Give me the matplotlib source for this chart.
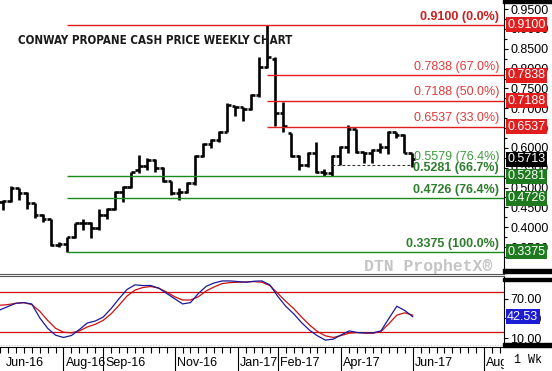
import numpy as np
import matplotlib.pyplot as plt
from matplotlib.patches import Rectangle
from matplotlib.transforms import blended_transform_factory

plt.rcParams['font.family'] = ['Liberation Sans', 'DejaVu Sans']

# weekly OHLC, Jun-16 .. Jun-17
opens = [0.464, 0.466, 0.499, 0.486, 0.460, 0.431, 0.420, 0.355, 0.358, 0.376,
         0.411, 0.410, 0.397, 0.431, 0.445, 0.490, 0.502, 0.545, 0.554, 0.570,
         0.549, 0.517, 0.486, 0.490, 0.512, 0.580, 0.610, 0.620, 0.641, 0.706,
         0.703, 0.697, 0.733, 0.805, 0.825, 0.687, 0.637, 0.580, 0.557, 0.586,
         0.539, 0.536, 0.580, 0.603, 0.647, 0.590, 0.588, 0.595, 0.602, 0.641,
         0.633, 0.586]
highs = [0.469, 0.505, 0.499, 0.488, 0.462, 0.433, 0.421, 0.363, 0.376, 0.411,
         0.421, 0.414, 0.445, 0.448, 0.492, 0.504, 0.540, 0.582, 0.574, 0.571,
         0.551, 0.517, 0.498, 0.515, 0.582, 0.612, 0.622, 0.643, 0.714, 0.706,
         0.704, 0.736, 0.828, 0.910, 0.829, 0.715, 0.637, 0.582, 0.590, 0.616,
         0.546, 0.582, 0.605, 0.658, 0.647, 0.590, 0.597, 0.612, 0.643, 0.641,
         0.635, 0.588]
lows = [0.443, 0.464, 0.469, 0.445, 0.422, 0.414, 0.353, 0.349, 0.3375, 0.372,
        0.393, 0.372, 0.393, 0.420, 0.443, 0.464, 0.498, 0.536, 0.544, 0.540,
        0.515, 0.481, 0.469, 0.486, 0.507, 0.578, 0.599, 0.616, 0.641, 0.681,
        0.669, 0.696, 0.729, 0.801, 0.654, 0.640, 0.578, 0.544, 0.553, 0.536,
        0.530, 0.5281, 0.557, 0.586, 0.588, 0.561, 0.561, 0.586, 0.585, 0.624,
        0.586, 0.553]
closes = [0.466, 0.499, 0.486, 0.460, 0.431, 0.420, 0.355, 0.358, 0.376, 0.411,
          0.410, 0.397, 0.431, 0.445, 0.490, 0.502, 0.540, 0.554, 0.570, 0.549,
          0.517, 0.486, 0.490, 0.512, 0.580, 0.610, 0.620, 0.641, 0.708, 0.703,
          0.697, 0.733, 0.805, 0.829, 0.687, 0.655, 0.580, 0.557, 0.586, 0.539,
          0.536, 0.580, 0.603, 0.647, 0.590, 0.588, 0.595, 0.602, 0.641, 0.633,
          0.586, 0.5713]

# stochastics, first value is the week before the first bar
stoch_k = [53, 58, 63, 64, 62, 41, 25, 14.5, 11, 14, 23, 33, 36, 42, 55, 70, 84,
           91, 90, 90, 86, 78, 70, 62, 64, 78, 89, 94, 97, 97, 96, 95, 96.5, 97,
           91, 73.5, 58.5, 47, 33.5, 22, 13.5, 7, 8.5, 15, 21, 18.5, 18, 18, 21,
           40, 58.5, 52, 42.53]
stoch_d = [60, 61, 63, 64, 61, 51, 37, 25, 19, 18, 21, 27, 31, 37, 47, 60, 74,
           83, 87, 88.5, 86, 80, 73, 68, 68, 73, 82, 88, 93, 94.5, 95, 95.5, 96,
           95, 90, 78, 66, 55, 42, 30, 20, 13.5, 11, 14, 17.5, 18.5, 17.5, 17.5,
           20, 32, 45, 48.5, 45]

# retracement levels: (value, label, start bar)
red_levels = [(0.9100, '0.9100 (0.0%)', 8), (0.7838, '0.7838 (67.0%)', 33),
              (0.7188, '0.7188 (50.0%)', 33), (0.6537, '0.6537 (33.0%)', 33)]
green_levels = [(0.5281, '0.5281 (66.7%)'), (0.4726, '0.4726 (76.4%)'),
                (0.3375, '0.3375 (100.0%)')]
dash_level = 0.5579

month_pos = [7, 12, 21, 29, 34, 42, 51, 60]
month_lbl = ['Aug-16', 'Sep-16', 'Nov-16', 'Jan-17', 'Feb-17', 'Apr-17', 'Jun-17', 'Aug-17']

RED = '#e01e1e'
GREEN = '#1a8a1a'
W, H = 552, 371

fig = plt.figure(figsize=(W / 100, H / 100), dpi=100)
ax1 = fig.add_axes([0, 1 - 274 / H, 504 / W, 274 / H])
ax2 = fig.add_axes([0, 1 - 347 / H, 504 / W, 71 / H])

x = np.arange(len(closes))
xlim = (-0.34, 62.5)

# price bars
ax1.vlines(x, lows, highs, color='k', lw=1.9)
ax1.hlines(opens, x - 0.45, x, color='k', lw=1.9)
ax1.hlines(closes, x, x + 0.45, color='k', lw=1.9)

for v, t, s in red_levels:
    ax1.hlines(v, s, xlim[1], color=RED, lw=1.0)
    ax1.text(61.9, v + 0.006, t, ha='right', va='bottom', fontsize=9,
             color='#cc1f1f' if s == 8 else '#e03a3a',
             fontweight='bold' if s == 8 else 'normal')
for v, t in green_levels:
    ax1.hlines(v, 8, xlim[1], color=GREEN, lw=1.0)
    ax1.text(61.9, v + 0.006, t, ha='right', va='bottom', fontsize=9,
             color='#2d7d2d', fontweight='bold')
ax1.hlines(dash_level, 41, 51.3, color='#333333', lw=0.8, linestyles=(0, (2.5, 2)))
ax1.text(61.9, dash_level + 0.003, '0.5579 (76.4%)', ha='right', va='bottom',
         fontsize=9, color='#3f9a3f')

ax1.text(1.9, 0.870, 'CONWAY PROPANE CASH PRICE WEEKLY CHART', fontsize=8.3,
         family='DejaVu Sans', fontstretch='condensed', fontweight='bold',
         color='#1a1a1a', va='center', ha='left')
ax1.text(61.0, 0.3, 'DTN ProphetX\u00ae', fontsize=11.8, family='Liberation Mono',
         fontweight='bold', color='#c4c4c4', ha='right', va='center')

ax1.set_xlim(xlim)
ax1.set_ylim(0.282, 0.973)
ax1.yaxis.tick_right()
ax1.set_yticks(np.arange(0.35, 0.951, 0.05))
ax1.set_yticks(np.arange(0.325, 0.96, 0.025), minor=True)
ax1.set_yticklabels(['%.4f' % v for v in np.arange(0.35, 0.951, 0.05)])
ax1.tick_params(axis='y', which='major', length=3, pad=1.5, labelsize=9, width=0.8)
ax1.tick_params(axis='y', which='minor', length=2, width=0.8)
ax1.set_xticks([])
for s in ['left', 'top']:
    ax1.spines[s].set_visible(False)
ax1.spines['bottom'].set_color('#555555')

# value boxes on the price axis
trans1 = blended_transform_factory(ax1.transAxes, ax1.transData)
boxes = [(v, RED) for v, _, _ in red_levels] + [(closes[-1], 'black')] + \
        [(v, '#1f7a1f') for v, _ in green_levels]
for v, c in boxes:
    ax1.text(1.006, v, '%.4f' % v, transform=trans1, ha='left', va='center',
             fontsize=9, color='white', clip_on=False,
             bbox=dict(boxstyle='square,pad=0.12', fc=c, ec='none'))

# stochastic panel
xs = np.arange(-1, len(closes))
ax2.axhline(80, color='#d01010', lw=0.9)
ax2.axhline(20, color='#d01010', lw=0.9)
ax2.axhline(0, color='#c8c8c8', lw=0.8, ls=(0, (1, 1.5)))
ax2.plot(xs, stoch_d, color='#cc1010', lw=0.9)
ax2.plot(xs, stoch_k, color='#1a1a9a', lw=0.9)
ax2.set_xlim(xlim)
ax2.set_ylim(-3.5, 104.5)
ax2.yaxis.tick_right()
ax2.set_yticks([10, 40, 70])
ax2.set_yticklabels(['10.00', '40.00', '70.00'])
ax2.tick_params(axis='y', length=3, pad=1.5, labelsize=9, width=0.8)
trans2 = blended_transform_factory(ax2.transAxes, ax2.transData)
ax2.text(1.006, stoch_k[-1], '%.2f' % stoch_k[-1], transform=trans2, ha='left',
         va='center', fontsize=9, color='white', clip_on=False,
         bbox=dict(boxstyle='square,pad=0.12', fc='#1c1cd4', ec='none'))

ax2.set_xticks(month_pos)
ax2.set_xticklabels([])
ax2.set_xticks(np.arange(-1, 63), minor=True)
ax2.tick_params(axis='x', which='major', length=17, width=0.8)
ax2.tick_params(axis='x', which='minor', length=4, width=0.8)
ax2.spines['left'].set_visible(False)
ax2.spines['top'].set_color('#555555')
trans3 = blended_transform_factory(ax2.transData, ax2.transAxes)
ax2.text(-0.3, -0.22, 'Jun-16', transform=trans3, fontsize=9, ha='left', va='center')
for p, t in zip(month_pos, month_lbl):
    ax2.text(p + 0.25, -0.22, t, transform=trans3, fontsize=9, ha='left',
             va='center', clip_on=False)

# right-hand frame pieces
for y0, h in [(0, 3), (269, 4), (278, 3), (343, 4)]:
    fig.patches.append(Rectangle((503 / W, 1 - (y0 + h) / H), 49 / W, h / H,
                                 transform=fig.transFigure, color='black', zorder=5))
fig.patches.append(Rectangle((504 / W, 0), 48 / W, 1 - 347 / H,
                             transform=fig.transFigure, color='white', zorder=4))
fig.text(514 / W, 1 - 360 / H, '1 Wk', family='Liberation Mono', fontsize=8.5,
         va='center', ha='left', zorder=6)

fig.savefig('out.png', dpi=100)
